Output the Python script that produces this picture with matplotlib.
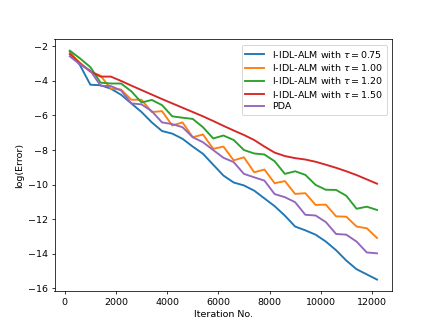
import numpy as np
import matplotlib
matplotlib.use('Agg')
import matplotlib.pyplot as plt

iters = np.arange(200, 12201, 400)

err_075 = [-2.3, -3.1, -4.22, -4.25, -4.45, -4.8, -5.3, -5.8, -6.4, -6.9,
           -7.05, -7.35, -7.8, -8.22, -8.85, -9.48, -9.88, -10.05, -10.35, -10.8,
           -11.25, -11.8, -12.43, -12.65, -12.9, -13.3, -13.8, -14.4, -14.9, -15.2,
           -15.5]
err_100 = [-2.39, -2.95, -3.45, -3.7, -4.45, -4.5, -5.09, -5.09, -5.8, -5.75,
           -6.58, -6.4, -7.26, -7.1, -7.93, -7.8, -8.6, -8.42, -9.29, -9.13,
           -9.92, -9.8, -10.54, -10.5, -11.18, -11.16, -11.84, -11.86, -12.43, -12.53,
           -13.09]
err_120 = [-2.25, -2.7, -3.2, -4.1, -4.15, -4.15, -4.6, -5.25, -5.1, -5.4,
           -6.05, -6.13, -6.2, -6.68, -7.33, -7.16, -7.42, -8.0, -8.2, -8.26,
           -8.65, -9.38, -9.23, -9.44, -10.02, -10.3, -10.31, -10.65, -11.4, -11.28,
           -11.47]
err_150 = [-2.45, -3.0, -3.45, -3.75, -3.75, -4.0, -4.27, -4.53, -4.79, -5.05,
           -5.3, -5.55, -5.8, -6.05, -6.32, -6.6, -6.87, -7.13, -7.42, -7.8,
           -8.15, -8.35, -8.47, -8.55, -8.68, -8.85, -9.03, -9.23, -9.45, -9.7,
           -9.95]
err_pda = [-2.58, -3.05, -3.4, -4.28, -4.3, -4.55, -5.3, -5.36, -5.75, -6.4,
           -6.5, -6.68, -7.26, -7.55, -8.0, -8.45, -8.7, -9.38, -9.58, -9.77,
           -10.55, -10.73, -11.02, -11.75, -11.79, -12.17, -12.86, -12.9, -13.3, -13.93,
           -13.98]

fig = plt.figure(figsize=(6.4, 4.8), dpi=68.125)
plt.plot(iters, err_075, lw=2, label=r'I-IDL-ALM with $\tau = 0.75$')
plt.plot(iters, err_100, lw=2, label=r'I-IDL-ALM with $\tau = 1.00$')
plt.plot(iters, err_120, lw=2, label=r'I-IDL-ALM with $\tau = 1.20$')
plt.plot(iters, err_150, lw=2, label=r'I-IDL-ALM with $\tau = 1.50$')
plt.plot(iters, err_pda, lw=2, label='PDA')
plt.xlabel('Iteration No.')
plt.ylabel('log(Error)')
plt.legend(loc='upper right', labelspacing=0.25, borderaxespad=0.6)
plt.savefig('out.png', dpi=68.125)
